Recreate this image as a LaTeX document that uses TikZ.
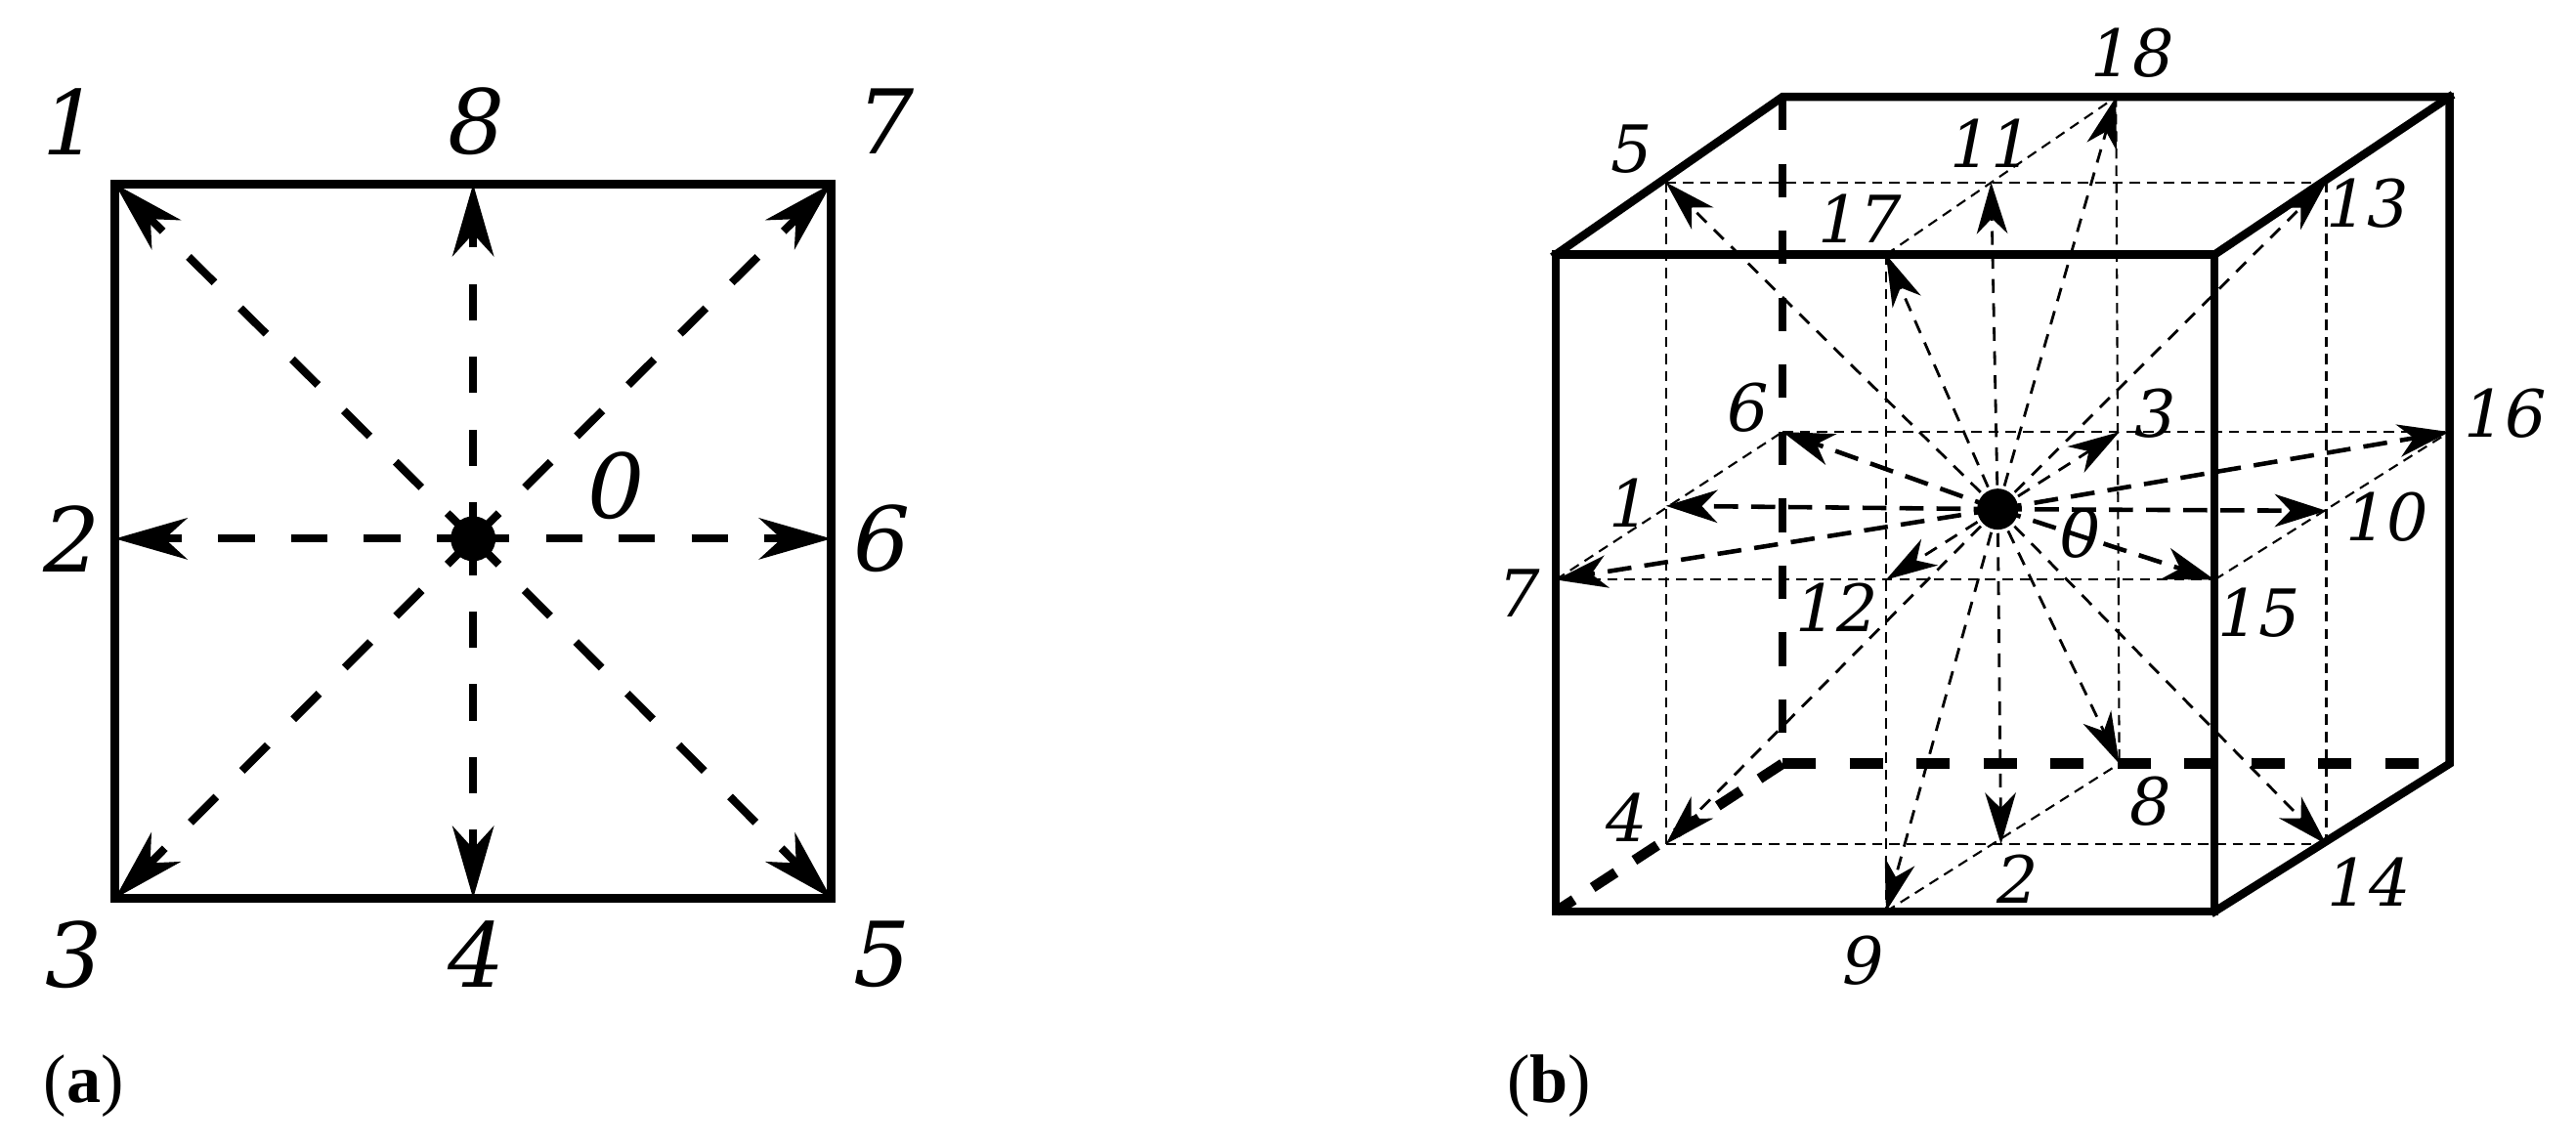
\documentclass[tikz,border=0pt]{standalone}
\usepackage{fontspec}
\usepackage{xcolor}
\usetikzlibrary{arrows.meta, positioning}
\setmainfont{DejaVu Serif}
\newfontfamily\capfont{Liberation Serif}

\tikzset{
  boldedge/.style={line width=2.4pt, line cap=rect},
  boldhidden/.style={line width=2.3pt, dash pattern=on 9.7pt off 9.8pt},
  boldfloor/.style={line width=3pt, dash pattern=on 9.7pt off 9.8pt},
  boldslant/.style={line width=3pt, dash pattern=on 8pt off 6.5pt},
  squarearrow/.style={line width=2.3pt, dash pattern=on 10.6pt off 10.6pt, -{Stealth[length=21pt, width=12pt, inset=6.5pt]}},
  cubearrow/.style={line width=0.8pt, dash pattern=on 4pt off 3pt, -{Stealth[length=15pt, width=9pt, inset=4.5pt]}},
  cubearrowmid/.style={line width=1.3pt, dash pattern=on 7pt off 3.8pt, -{Stealth[length=15pt, width=9.5pt, inset=4.5pt]}},
  guide/.style={line width=0.6pt, dash pattern=on 3pt off 2pt},
  bigdot/.style={circle, fill=black, inner sep=0pt, minimum size=#1},
  biglabel/.style={inner sep=0pt, font=\itshape\fontsize{26}{26}\selectfont},
  smalllabel/.style={inner sep=0pt, font=\itshape\fontsize{19}{19}\selectfont},
  caplabel/.style={inner sep=0pt, font=\capfont\fontsize{20}{20}\selectfont}
}

\begin{document}
\begin{tikzpicture}[x=0.1681mm, y=-0.1681mm]
\useasboundingbox (0,0) rectangle (1568,697);

% (a) the square
\foreach \name/\px/\py in {a1/70/112, a2/70/328, a3/70/547, a4/288/547, a5/506/547, a6/506/328, a7/506/112, a8/288/112}
  \coordinate (\name) at (\px,\py);
\node[bigdot=4.6mm] (oa) at (288,328) {};
\draw[boldedge] (a1) -- (a7) -- (a5) -- (a3) -- cycle;
\foreach \name in {a1,a2,a3,a4,a5,a6,a7,a8}
  \draw[squarearrow] (oa.center) -- (\name);
\foreach \name/\px/\py/\txt in {la1/43/74/1, la2/44/328/2, la3/45/581/3, la4/290/581/4, la5/537/581/5, la6/537/328/6, la7/539/74/7, la8/290/74/8, la0/375/296/0}
  \node[biglabel] (\name) at (\px,\py) {\txt};
\node[caplabel] (capa) at (51,661) {(\textbf{a})};

% (b) the cube
\foreach \name/\px/\py in {fa/947/155, fb/1348/155, fc/1348/555, fd/947/555, ba/1085/59, bb/1491/59, bc/1491/465, bd/1085/465}
  \coordinate (\name) at (\px,\py);
\foreach \name/\px/\py in {b1/1014/308, b2/1218/514, b3/1290/263, b4/1014/514, b5/1014/111, b6/1085/263, b7/947/353, b8/1290/465, b9/1148/555, b10/1416/311, b11/1212/111, b12/1148/353, b13/1416/111, b14/1416/514, b15/1348/353, b16/1491/263, b17/1148/155, b18/1288/59}
  \coordinate (\name) at (\px,\py);
\node[bigdot=4.2mm] (ob) at (1216,310) {};

% guide lines
\draw[guide] (b5) -- (b13);
\draw[guide] (b17) -- (b18);
\draw[guide] (b6) -- (b16);
\draw[guide] (b7) -- (b6);
\draw[guide] (b7) -- (b15);
\draw[guide] (b15) -- (b16);
\draw[guide] (b4) -- (b14);
\draw[guide] (b9) -- (b8);
\draw[guide] (b5) -- (b4);
\draw[guide] (b13) -- (b14);
\draw[guide] (b17) -- (b9);
\draw[guide] (b18) -- (b8);

% hidden edges
\draw[boldhidden] (ba) -- (bd);
\draw[boldfloor] (bd) -- (bc);
\draw[boldslant] (bd) -- (fd);

% visible edges
\draw[boldedge] (fa) -- (fb) -- (fc) -- (fd) -- cycle;
\draw[boldedge] (fa) -- (ba) -- (bb) -- (bc) -- (fc);
\draw[boldedge] (fb) -- (bb);

% lattice directions
\foreach \name in {b2,b3,b4,b5,b8,b9,b11,b12,b13,b14,b17,b18}
  \draw[cubearrow] (ob.center) -- (\name);
\foreach \name in {b1,b6,b7,b10,b15,b16}
  \draw[cubearrowmid] (ob.center) -- (\name);

\foreach \name/\px/\py/\txt in {lb0/1266/325/0, lb1/992/306/1, lb2/1228/535/2, lb3/1312/252/3, lb4/990/498/4, lb5/993/91/5, lb6/1064/248/6, lb7/925/361/7, lb8/1309/488/8, lb9/1134/585/9, lb10/1453/315/10, lb11/1212/87/11, lb12/1118/370/12, lb13/1441/124/13, lb14/1442/537/14, lb15/1375/373/15, lb16/1525/252/16, lb17/1132/133/17, lb18/1298/32/18}
  \node[smalllabel] (\name) at (\px,\py) {\txt};
\node[caplabel] (capb) at (943,661) {(\textbf{b})};
\end{tikzpicture}
\end{document}
